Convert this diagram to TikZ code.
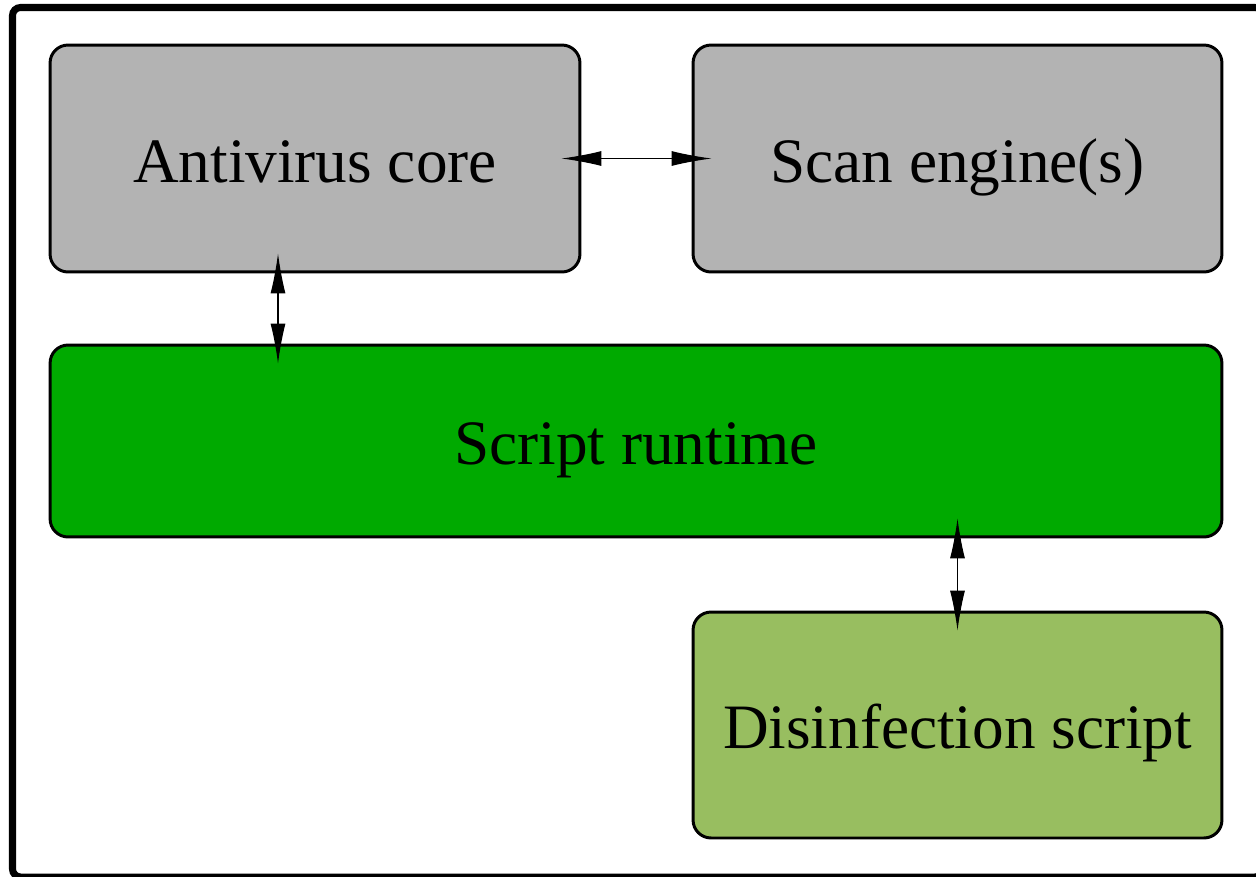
\documentclass[tikz,border=0pt]{standalone}
\usepackage{fontspec}
\setmainfont{Liberation Serif}
\usetikzlibrary{arrows.meta,positioning,calc}
\definecolor{coregray}{RGB}{179,179,179}
\definecolor{rungreen}{RGB}{0,170,0}
\definecolor{disgreen}{RGB}{152,190,96}

\begin{document}
\begin{tikzpicture}[x=0.02cm,y=-0.02cm,
  blk/.style={draw,line width=1.7pt,rounded corners=0.36cm,inner sep=0pt,
              text height=0.94cm,text depth=0pt,
              font=\fontsize{36}{40}\selectfont},
  dbl/.style={{Latex[length=0.8cm,width=0.3cm]}-{Latex[length=0.8cm,width=0.3cm]},
              line width=0.6pt,shorten <=-0.4cm,shorten >=-0.4cm}]
  \useasboundingbox (0,0) rectangle (1256,876);
  % outer frame, cut by the page on the right and bottom
  \draw[line width=4pt,rounded corners=0.16cm] (12.5,7.5) rectangle (1263,877);

  % upper row
  \node[blk,fill=coregray,minimum width=10.6cm,minimum height=4.54cm] (av) at (315,158.5) {Antivirus core};
  \node[blk,fill=coregray,minimum width=10.58cm,minimum height=4.54cm] (scan) at (957.5,158.5) {Scan engine(s)};
  % runtime bar and script
  \node[blk,fill=rungreen,minimum width=23.44cm,minimum height=3.84cm] (rt) at (636,441) {Script runtime};
  \node[blk,fill=disgreen,minimum width=10.58cm,minimum height=4.52cm] (dis) at (957.5,725) {Disinfection script};

  % links
  \draw[dbl] (av.east) -- (scan.west);
  \draw[dbl] ([xshift=-0.74cm]av.south) -- ([xshift=-0.74cm]av.south |- rt.north);
  \draw[dbl] (rt.south -| dis.north) -- (dis.north);
\end{tikzpicture}
\end{document}
